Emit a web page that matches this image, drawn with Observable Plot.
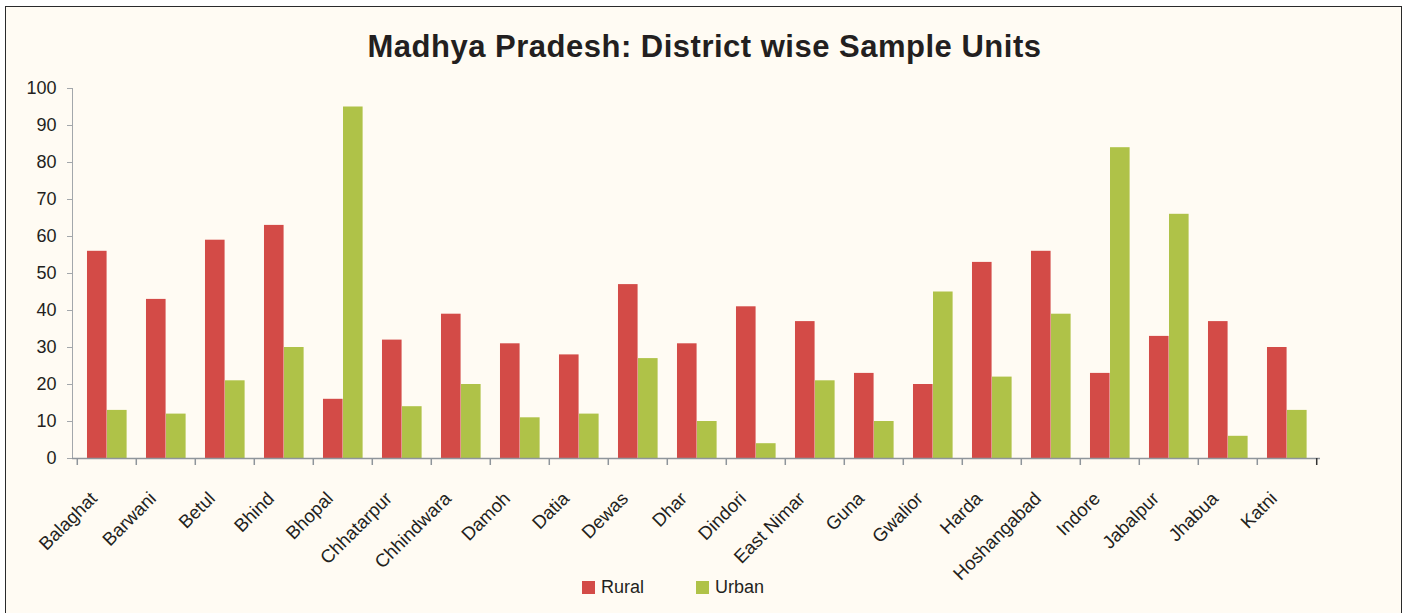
<!DOCTYPE html>
<html>
<head>
<meta charset="utf-8">
<script src="https://cdn.jsdelivr.net/npm/d3@7"></script>
<script src="https://cdn.jsdelivr.net/npm/@observablehq/plot@0.6"></script>
<style>
  html, body { margin: 0; padding: 0; background: #ffffff; width: 1409px; height: 613px; overflow: hidden; }
  body { position: relative; font-family: "Liberation Sans", Arial, sans-serif; }
  #frame { position: absolute; left: 5px; top: 6px; width: 1397px; height: 620px; border: 1.5px solid #2a2a2a; background: #fffbf3; box-sizing: border-box; }
  #title { position: absolute; left: 0; top: 30.5px; width: 1409px; text-align: center; font-size: 31px; line-height: 31px; letter-spacing: 0.5px; font-weight: bold; color: #231f20; }
  #chart { position: absolute; left: 0; top: 70px; }
  #chart svg text { fill: #231f20; }
  #legend { position: absolute; left: 0; top: 577px; width: 1346px; display: flex; justify-content: center; font-size: 18px; line-height: 20px; color: #231f20; }
  .item { display: flex; align-items: center; margin: 0 26px; }
  .sw { width: 13px; height: 13px; margin-right: 6px; display: inline-block; }
</style>
</head>
<body>
<div id="frame"></div>
<div id="title">Madhya Pradesh: District wise Sample Units</div>
<div id="chart"></div>
<div id="legend"></div>
<script>
const districts = ["Balaghat","Barwani","Betul","Bhind","Bhopal","Chhatarpur","Chhindwara","Damoh","Datia","Dewas","Dhar","Dindori","East Nimar","Guna","Gwalior","Harda","Hoshangabad","Indore","Jabalpur","Jhabua","Katni"];
const rural = [56,43,59,63,16,32,39,31,28,47,31,41,37,23,20,53,56,23,33,37,30];
const urban = [13,12,21,30,95,14,20,11,12,27,10,4,21,10,45,22,39,84,66,6,13];
const seriesNames = ["Rural","Urban"];
const seriesColors = ["#d34b47","#afc248"];
const yTicks = [0,10,20,30,40,50,60,70,80,90,100];

const ruralRows = districts.map((d, i) => ({district: d, series: "Rural", value: rural[i]}));
const urbanRows = districts.map((d, i) => ({district: d, series: "Urban", value: urban[i]}));

const W = 1409, mL = 72, mR = 89;
const band = (W - mL - mR) / districts.length;
const axisColor = "#8f959b";
const hasAxisMark = typeof Plot.axisX === "function";

const marks = [
  Plot.barY(ruralRows, {x: "district", y: "value", fill: seriesColors[0], insetLeft: band * 0.168, insetRight: band - band * 0.168 - band * 0.337}),
  Plot.barY(urbanRows, {x: "district", y: "value", fill: seriesColors[1], insetLeft: band * 0.505, insetRight: band - band * 0.505 - band * 0.337}),
  Plot.ruleY([0], {stroke: axisColor, strokeWidth: 1.5}),
  Plot.ruleX(districts, {x: d => d, y1: 0, y2: 0, insetBottom: -7, dx: -band / 2, stroke: axisColor, strokeWidth: 1.5}),
  Plot.ruleX(districts.slice(-1), {x: d => d, y1: 0, y2: 0, insetBottom: -7, dx: band / 2, stroke: "#333", strokeWidth: 1.5})
];
if (hasAxisMark) {
  marks.push(Plot.axisX({tickSize: 0, tickRotate: -45, tickPadding: 12, dx: -13, dy: 25, fontSize: 18.5, label: null}));
}

const chart = Plot.plot({
  width: W,
  height: 500,
  marginTop: 18,
  marginLeft: mL,
  marginRight: mR,
  marginBottom: 112,
  style: {background: "transparent", fontFamily: "'Liberation Sans', Arial, sans-serif", fontSize: "18px", color: "#a3a7ab", overflow: "visible"},
  x: {domain: districts, padding: 0, tickSize: 0, tickRotate: -45, tickPadding: 37, label: null},
  y: {domain: [0, 100], ticks: yTicks, tickSize: 5, tickPadding: 11, line: true, label: null},
  marks
});
document.getElementById("chart").appendChild(chart);

const legend = document.getElementById("legend");
seriesNames.forEach((s, i) => {
  const item = document.createElement("div");
  item.className = "item";
  const sw = document.createElement("span");
  sw.className = "sw";
  sw.style.background = seriesColors[i];
  item.appendChild(sw);
  item.appendChild(document.createTextNode(s));
  legend.appendChild(item);
});
</script>
</body>
</html>
